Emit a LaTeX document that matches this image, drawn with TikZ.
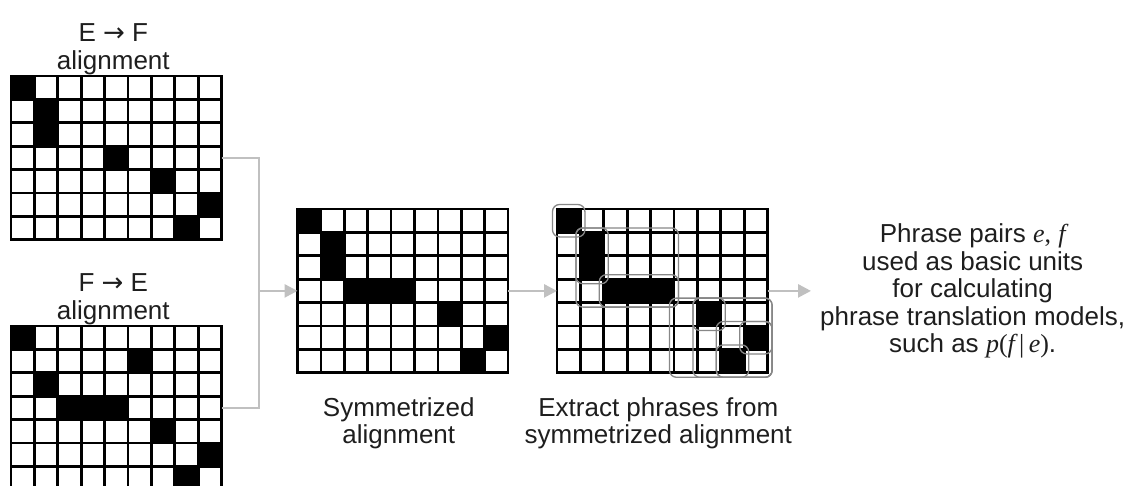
\documentclass[tikz,border=0pt]{standalone}
\usepackage{fontspec}
\setmainfont{Liberation Sans}
\newfontfamily\serifit{Liberation Serif}
\newfontfamily\symfont{DejaVu Sans}
\usetikzlibrary{arrows.meta, positioning, calc}
\definecolor{linkgray}{RGB}{192,192,192}
\definecolor{boxgray}{RGB}{135,135,135}
\definecolor{textgray}{RGB}{30,30,30}

\newcommand{\mvar}[1]{{\serifit\itshape #1}}
\newcommand{\toarrow}{{\symfont →}}
\newcommand{\cells}[2]{\foreach \r/\c in {#2} {\fill ($(#1.north west)+(\c*23.4,\r*23.4)$) rectangle ++(23.4,23.4);}}
\newcommand{\cellgrid}[1]{%
  \foreach \i in {1,...,8} {\draw[cellline] ($(#1.north west)+(\i*23.4,0)$) -- ++(0,163.8);}
  \foreach \j in {1,...,6} {\draw[cellline] ($(#1.north west)+(0,\j*23.4)$) -- ++(210.6,0);}}
\newcommand{\phrase}[4]{\draw[phr] ($(ext.north west)+(#2*23.4-4.5,#1*23.4-4.5)$) rectangle ($(ext.north west)+(#4*23.4+27.9,#3*23.4+27.9)$);}

\begin{document}
\begin{tikzpicture}[
    x=1pt, y=-1pt,
    matbox/.style={rectangle, draw=black, line width=2.7pt, minimum width=210.6pt, minimum height=163.8pt, inner sep=0pt, outer sep=0pt, anchor=north west},
    cellline/.style={line width=2.7pt},
    lbl/.style={font=\fontsize{26}{27.5}\selectfont, text=textgray, align=center, inner sep=0pt},
    conn/.style={draw=linkgray, line width=2.6pt},
    arrow/.style={conn, -{Triangle[length=13pt, width=13pt]}},
    phr/.style={draw=boxgray, line width=1.3pt, rounded corners=7pt}
]
\useasboundingbox (0,0) rectangle (1135,485);

% Alignment matrices
\node[matbox] (ef) at (11,76) {};
\node[matbox] (fe) at (11,326) {};
\node[matbox] (sym) at (297.5,209) {};
\node[matbox] (ext) at (557,209) {};

\cells{ef}{0/0, 1/1, 2/1, 3/4, 4/6, 5/8, 6/7}
\cells{fe}{0/0, 1/5, 2/1, 3/2, 3/3, 3/4, 4/6, 5/8, 6/7}
\cells{sym}{0/0, 1/1, 2/1, 3/2, 3/3, 3/4, 4/6, 5/8, 6/7}
\cells{ext}{0/0, 1/1, 2/1, 3/2, 3/3, 3/4, 4/6, 5/8, 6/7}

\cellgrid{ef}
\cellgrid{fe}
\cellgrid{sym}
\cellgrid{ext}

% Extracted phrase pairs
\phrase{0}{0}{0}{0}
\phrase{1}{1}{2}{1}
\phrase{1}{1}{3}{4}
\phrase{3}{2}{3}{4}
\phrase{4}{5}{6}{8}
\phrase{4}{6}{6}{8}
\phrase{4}{6}{4}{6}
\phrase{5}{7}{6}{8}
\phrase{5}{8}{5}{8}
\phrase{6}{7}{6}{7}

% Labels
\node[lbl, anchor=south] (efText) at ($(ef.north)+(-3,-1)$) {E \toarrow{} F\\alignment};
\node[lbl, anchor=south] (feText) at ($(fe.north)+(-3,-1)$) {F \toarrow{} E\\alignment};
\node[lbl, anchor=north] (symText) at ($(sym.south)+(-4,24.5)$) {Symmetrized\\alignment};
\node[lbl, anchor=north] (extText) at ($(ext.south)+(-4,24.5)$) {Extract phrases from\\symmetrized alignment};

% Connectors
\coordinate (join) at (259,0);
\coordinate (outEnd) at (811,0);
\draw[conn] (ef.east) -- (ef.east -| join) -- (fe.east -| join) -- (fe.east);
\draw[arrow] (join |- sym.west) -- (sym.west);
\draw[arrow] (sym.east) -- (ext.west);
\draw[arrow] (ext.east) -- (outEnd |- ext.east);

% Result
\node[lbl, right=9pt of outEnd |- ext.east] (result) {Phrase pairs \mvar{e}{\serifit,} \mvar{f}\\used as basic units\\for calculating\\phrase translation models,\\such as {\serifit\mvar{p}(\mvar{f}\,|\,\mvar{e})}.};

\end{tikzpicture}
\end{document}
